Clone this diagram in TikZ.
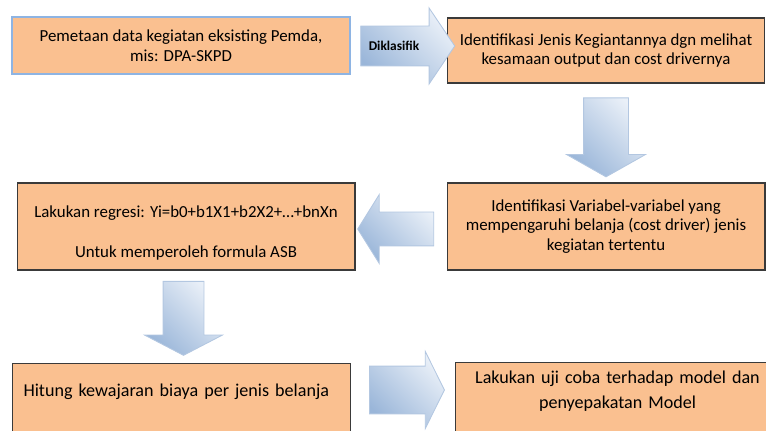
\documentclass[tikz,border=0pt]{standalone}
\usepackage{fontspec}
\setmainfont{Carlito}
\newfontfamily\lowfamily{Carlito}[WordSpace=0.5]
\usetikzlibrary{shapes.arrows}

\definecolor{boxfill}{HTML}{FAC090}
\definecolor{boxline}{HTML}{3A3A3A}
\definecolor{firstline}{HTML}{8EB4E3}
\definecolor{arrowdark}{HTML}{9AB6D9}
\definecolor{arrowlight}{HTML}{EAF0F8}
\definecolor{arrowline}{HTML}{B3C7E1}

\tikzset{
  box/.style={draw=boxline, fill=boxfill, line width=0.6pt, inner sep=0pt,
    align=center, font=\fontsize{9.6}{11.3}\selectfont},
  lowbox/.style={box, font=\lowfamily\fontsize{10.3}{14}\selectfont},
  blockarrow/.style={single arrow, draw=arrowline, line width=0.5pt,
    top color=arrowlight, bottom color=arrowdark, shading angle=-45, inner sep=#1,
    text height=0pt, text depth=0pt, single arrow head indent=0pt}
}

\begin{document}
\begin{tikzpicture}[x=0.02cm, y=-0.02cm]
  \useasboundingbox (0,0) rectangle (766,431);
  \clip (0,0) rectangle (766,431);

  % steps
  \node [box, draw=firstline, line width=1pt, minimum width=6.76cm, minimum height=1.14cm]
    (pemetaan) at (181,45.5) {Pemetaan data kegiatan eksisting Pemda,\\ mis: DPA-SKPD};
  \node [box, minimum width=6.34cm, minimum height=1.3cm]
    (jenis) at (606,50.5) {Identifikasi Jenis Kegiantannya dgn melihat\\ kesamaan output dan cost drivernya};
  \node [box, minimum width=6.36cm, minimum height=1.74cm]
    (variabel) at (606,226.5) {Identifikasi Variabel-variabel yang\\ mempengaruhi belanja (cost driver) jenis\\ kegiatan tertentu};
  \node [box, minimum width=6.76cm, minimum height=1.74cm]
    (regresi) at (186,226.5) {\rule{0pt}{14pt}Lakukan regresi: Yi=b0+b1X1+b2X2+…+bnXn\\[11.5pt] Untuk memperoleh formula ASB};
  \node [lowbox, anchor=north west, align=left, inner xsep=0.22cm, text width=6.32cm,
    text height=0.66cm, text depth=1.4cm]
    (hitung) at (12,363) {Hitung kewajaran biaya per jenis belanja};
  \node [lowbox, anchor=north west, text width=6.48cm, text height=0.42cm, text depth=1.6cm]
    (ujicoba) at (455,362) {Lakukan uji coba terhadap model dan\\ penyepakatan Model};

  % block arrows
  \node [blockarrow=0pt, inner ysep=0.39cm, minimum height=1.88cm, single arrow head extend=0.36cm,
    single arrow tip angle=112, font=\fontsize{7.6}{8}\selectfont\bfseries]
    (diklasifik) at (401,46) {\raisebox{-0.33em}{Diklasifik}\kern0.28cm};
  \node [blockarrow=0.44cm, shape border rotate=270, minimum height=1.58cm,
    single arrow head extend=0.34cm, single arrow tip angle=121] (turun1) at (606,131) {};
  \node [blockarrow=0.33cm, shape border rotate=180, minimum height=1.52cm,
    single arrow head extend=0.35cm, single arrow tip angle=116] (kiri) at (401,229) {};
  \node [blockarrow=0.4cm, shape border rotate=270, minimum height=1.48cm,
    single arrow head extend=0.37cm, single arrow tip angle=125] (turun2) at (183.5,313) {};
  \node [blockarrow=0.47cm, minimum height=1.5cm, single arrow head extend=0.29cm,
    single arrow tip angle=127] (kanan) at (401,390) {};
\end{tikzpicture}
\end{document}
